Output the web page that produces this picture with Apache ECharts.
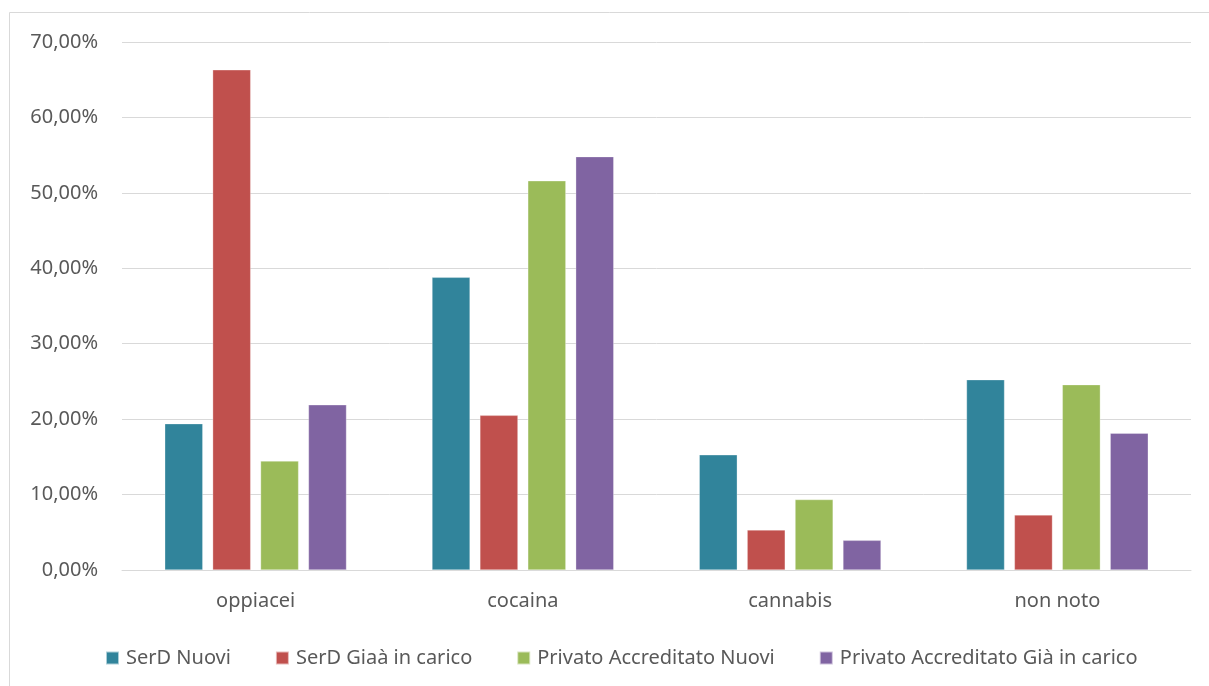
<!DOCTYPE html>
<html>
<head>
<meta charset="utf-8">
<script src="https://cdn.jsdelivr.net/npm/echarts@6/dist/echarts.min.js"></script>
<style>
  html, body { margin: 0; padding: 0; background: #ffffff; }
  #chart { width: 1209px; height: 686px; }
</style>
</head>
<body>
<div id="chart"></div>
<script>
// Substanze d'abuso per tipo di servizio (quote percentuali)
const categories = ['oppiacei', 'cocaina', 'cannabis', 'non noto'];
const serdNuovi = [19.4, 38.8, 15.27, 25.23];
const serdGiaInCarico = [66.31, 20.5, 5.31, 7.3];
const privatoNuovi = [14.45, 51.6, 9.34, 24.57];
const privatoGiaInCarico = [21.9, 54.8, 3.93, 18.14];
const seriesNames = ['SerD Nuovi', 'SerD Giaà in carico', 'Privato Accreditato Nuovi', 'Privato Accreditato Già in carico'];
const colors = ['#31849B', '#C0504D', '#9BBB59', '#8064A2'];
const yTicks = { min: 0, max: 70, interval: 10 };

const FONT = '"Noto Sans", "Open Sans", sans-serif';
const chart = echarts.init(document.getElementById('chart'), null, { renderer: 'canvas' });

const values = [serdNuovi, serdGiaInCarico, privatoNuovi, privatoGiaInCarico];

chart.setOption({
  animation: false,
  backgroundColor: '#ffffff',
  color: colors,
  graphic: [{
    type: 'rect',
    shape: { x: 9.5, y: 12.5, width: 1210, height: 690 },
    style: { fill: 'none', stroke: '#d9d9d9', lineWidth: 1 },
    silent: true
  }],
  grid: { left: 122, right: 18, top: 42, bottom: 116 },
  legend: {
    top: 643,
    left: 100,
    itemWidth: 13,
    itemHeight: 13,
    itemGap: 44,
    icon: 'rect',
    textStyle: { fontFamily: FONT, fontSize: 20, color: '#595959', padding: [0, 0, 0, 2] },
    data: seriesNames
  },
  xAxis: {
    type: 'category',
    data: categories,
    axisLine: { show: true, lineStyle: { color: '#d9d9d9', width: 1 } },
    axisTick: { show: false },
    axisLabel: { fontFamily: FONT, fontSize: 20, color: '#595959', margin: 21 }
  },
  yAxis: {
    type: 'value',
    min: yTicks.min,
    max: yTicks.max,
    interval: yTicks.interval,
    axisLine: { show: false },
    axisTick: { show: false },
    splitLine: { lineStyle: { color: '#d9d9d9', width: 1 } },
    axisLabel: {
      fontFamily: FONT, fontSize: 20, color: '#595959', margin: 24,
      formatter: v => v.toFixed(2).replace('.', ',') + '%'
    }
  },
  series: seriesNames.map((name, i) => ({
    name,
    type: 'bar',
    data: values[i],
    barGap: '26%',
    barCategoryGap: '32%',
    itemStyle: { color: colors[i], borderColor: 'rgba(255,255,255,0.6)', borderWidth: 0.5 }
  }))
});
</script>
</body>
</html>
